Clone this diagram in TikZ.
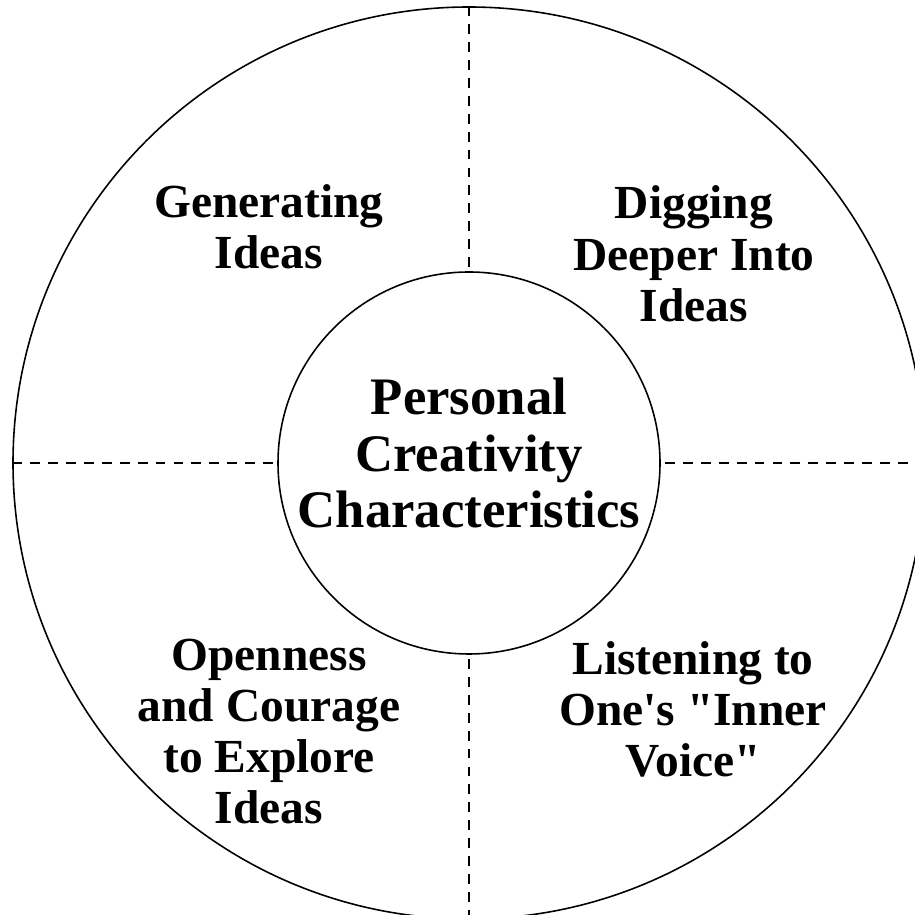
\documentclass[tikz,border=0pt]{standalone}
\usepackage{fontspec}
\setmainfont{Liberation Serif}[Ligatures=TeXOff]
\usetikzlibrary{shapes.geometric}
\tikzstyle{ring} = [circle, draw=black, line width=0.45pt, minimum size=9.12cm, inner sep=0pt]
\tikzstyle{hub} = [circle, draw=black, line width=0.45pt, minimum size=3.82cm, inner sep=0pt]
\tikzstyle{hubtext} = [text centered, align=center, font=\bfseries\fontsize{15}{16.2}\selectfont]
\tikzstyle{quadrant} = [text centered, align=center, font=\bfseries\fontsize{13.5}{14.6}\selectfont]
\tikzstyle{divider} = [line width=0.55pt, dash pattern=on 2.8pt off 2.3pt]

\begin{document}
\begin{tikzpicture}[node distance=2cm]
\useasboundingbox (0,0) rectangle (9.14,9.15);
\node (ring) [ring] at (4.69,4.52) {};
\node (core) [hub] at (ring.center) {};
\node (coretext) [hubtext] at (core.center) [yshift=0.1cm] {Personal\\Creativity\\Characteristics};
\node (generate) [quadrant, left of = core, yshift = 2.36cm] {Generating\\Ideas};
\node (digging) [quadrant, right of = core, xshift = 0.25cm, yshift = 2.09cm] {Digging\\Deeper Into\\Ideas};
\node (openness) [quadrant, left of = core, yshift = -2.685cm] {Openness\\and Courage\\to Explore\\Ideas};
\node (listening) [quadrant, right of = core, xshift = 0.24cm, yshift = -2.465cm] {Listening to\\One's "Inner\\Voice"};
\draw [divider] (ring.north) -- (core.north);
\draw [divider] (ring.south) -- (core.south);
\draw [divider] (ring.west) -- (core.west);
\draw [divider] (ring.east) -- (core.east);
\end{tikzpicture}
\end{document}
